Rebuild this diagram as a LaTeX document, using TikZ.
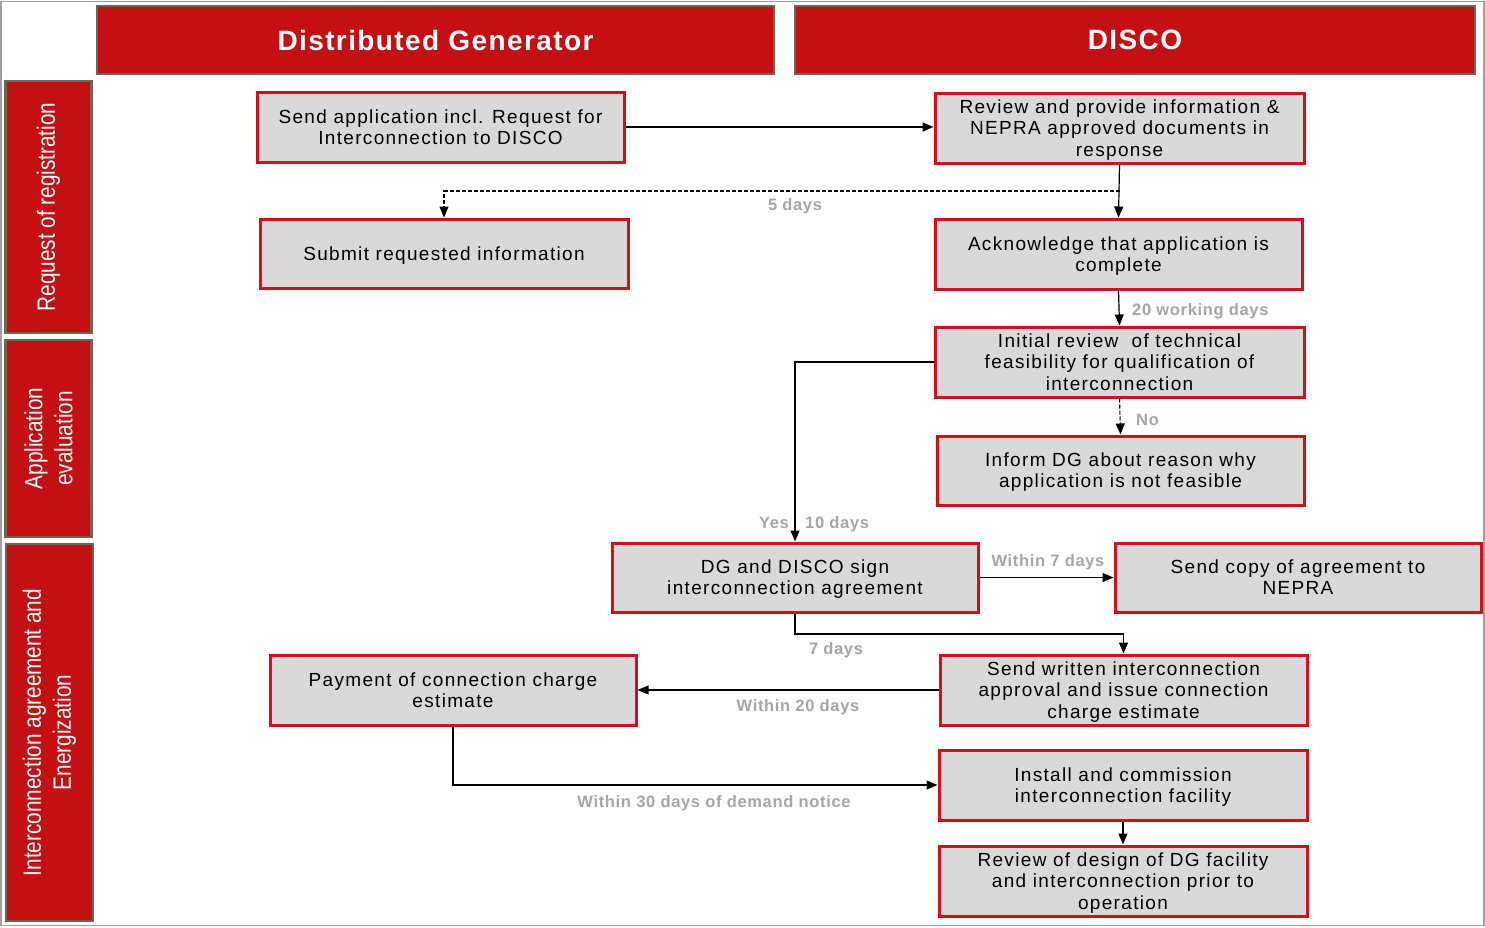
\documentclass[tikz,border=0pt]{standalone}
\usepackage{fontspec}
\setmainfont{Liberation Sans}
\newfontfamily\boxfont[LetterSpace=7]{Liberation Sans}
\newfontfamily\hdrfont[LetterSpace=5]{Liberation Sans}
\newfontfamily\lanefont[FakeStretch=0.83]{Liberation Sans}
\newfontfamily\lblfont[LetterSpace=4]{Liberation Sans}
\usetikzlibrary{arrows.meta}
\definecolor{hdrred}{HTML}{C41012}
\definecolor{hdrline}{HTML}{6F6655}
\definecolor{boxred}{HTML}{D0101A}
\definecolor{boxfill}{HTML}{D9D9D9}
\definecolor{lblgray}{HTML}{A6A6A6}
\definecolor{framegray}{HTML}{A0A0A0}
\tikzset{
  hdr/.style={draw=hdrline, line width=2.5pt, fill=hdrred, text=white, inner sep=0pt,
    font=\hdrfont\fontsize{28}{32}\selectfont\bfseries},
  lane/.style={draw=hdrline, line width=2.5pt, fill=hdrred, inner sep=0pt},
  lanetext/.style={text=white, rotate=90, align=center, inner sep=0pt,
    font=\lanefont\fontsize{25}{30}\selectfont},
  procbox/.style={draw=boxred, line width=3pt, fill=boxfill, align=center, inner sep=0pt,
    text depth=-2pt, font=\boxfont\fontsize{19}{21.2}\selectfont},
  lbl/.style={text=lblgray, inner sep=0pt, font=\lblfont\fontsize{16.5}{19}\selectfont\bfseries},
  conn/.style={line width=1.2pt, -{Triangle[length=11pt,width=9pt]}},
  dconn/.style={line width=1.1pt, dash pattern=on 4pt off 2pt, -{Triangle[length=11pt,width=9pt]}},
}
\begin{document}
\begin{tikzpicture}[x=1pt,y=-1pt]
\useasboundingbox (0,0) rectangle (1485,927);
\fill[white] (0,0) rectangle (1485,927);
\draw[framegray, line width=1.5pt] (1,1.5) rectangle (1484,925.5);

% headers
\node[hdr, minimum width=677, minimum height=68] (hdg) at (435.5,40) {Distributed Generator};
\node[hdr, minimum width=680, minimum height=68] (hdd) at (1135,40) {DISCO};

% lanes
\node[lane, minimum width=86, minimum height=252] (l1) at (48.5,207) {};
\node[lanetext] (l1t) at (l1.center) {Request of registration};
\node[lane, minimum width=86, minimum height=197] (l2) at (48.5,438.5) {};
\node[lanetext] (l2t) at (l2.center) {Application\\evaluation};
\node[lane, minimum width=87, minimum height=377] (l3) at (49.5,732.5) {};
\node[lanetext] (l3t) at (l3.center) {Interconnection agreement and\\Energization};

% process boxes
\node[procbox, minimum width=367, minimum height=70] (A) at (440.5,127) {Send application incl. Request for\\Interconnection to DISCO};
\node[procbox, minimum width=369, minimum height=70] (B) at (1119.5,128) {Review and provide information \&\\NEPRA approved documents in\\response};
\node[procbox, minimum width=368, minimum height=69] (C) at (444,253.5) {Submit requested information};
\node[procbox, minimum width=367, minimum height=70] (D) at (1118.5,254) {Acknowledge that application is\\complete};
\node[procbox, minimum width=369, minimum height=70] (E) at (1119.5,362) {Initial review\ \ of technical\\feasibility for qualification of\\interconnection};
\node[procbox, minimum width=367, minimum height=69] (F) at (1120.5,470.5) {Inform DG about reason why\\application is not feasible};
\node[procbox, minimum width=366, minimum height=69] (G) at (795,577.5) {DG and DISCO sign\\interconnection agreement};
\node[procbox, minimum width=366, minimum height=69] (H) at (1298,577.5) {Send copy of agreement to\\NEPRA};
\node[procbox, minimum width=366, minimum height=70] (I) at (453,690) {Payment of connection charge\\estimate};
\node[procbox, minimum width=367, minimum height=70] (J) at (1123.5,690) {Send written interconnection\\approval and issue connection\\charge estimate};
\node[procbox, minimum width=368, minimum height=70] (K) at (1123,785) {Install and commission\\interconnection facility};
\node[procbox, minimum width=368, minimum height=70] (L) at (1123,881) {Review of design of DG facility\\and interconnection prior to\\operation};

% connectors
\draw[conn] (A.east) -- (A.east -| B.west);
\draw[conn] (B.south) -- (D.north);
\coordinate (d1) at (1119.5,191);
\draw[dconn] (d1) -| (C.north);
\node[lbl] (t5) at (795,206) {5 days};
\draw[conn] (D.south) -- (E.north);
\node[lbl, anchor=west] (t20) at (1132,311) {20 working days};
\draw[dconn] (E.south) -- (F.north);
\node[lbl, anchor=west] (tno) at (1136,420) {No};
\draw[conn] (E.west) -| (G.north);
\node[lbl, anchor=east] (tyes) at (789,523) {Yes};
\node[lbl, anchor=west] (t10) at (805,524) {10 days};
\draw[conn] (G.east) -- (H.west);
\node[lbl] (tw7) at (1048,562) {Within 7 days};
\coordinate (g1) at (795,634);
\draw[conn] (G.south) -- (g1) -| (J.north);
\node[lbl] (t7) at (836,650) {7 days};
\draw[conn] (J.west) -- (I.east);
\node[lbl] (tw20) at (798,707) {Within 20 days};
\draw[conn] (I.south) |- (K.west);
\node[lbl] (tw30) at (714,803) {Within 30 days of demand notice};
\draw[conn] (K.south) -- (L.north);
\end{tikzpicture}
\end{document}
